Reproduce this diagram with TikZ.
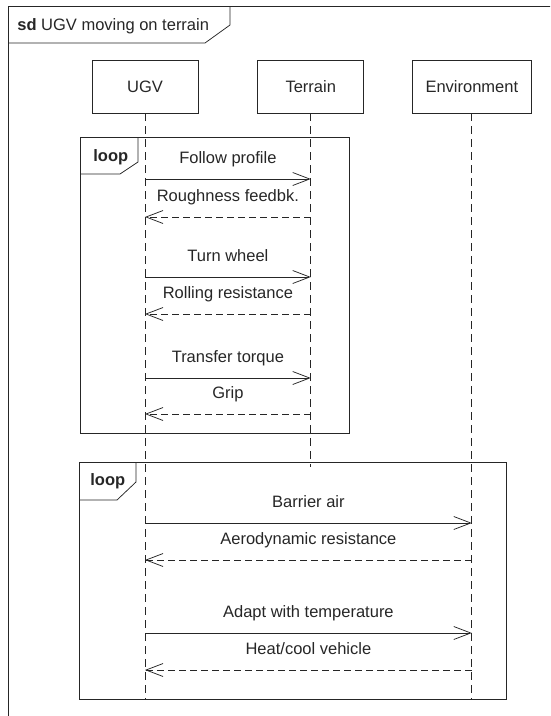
\documentclass[tikz,border=0pt]{standalone}
\usepackage{fontspec}
\setmainfont{Liberation Sans}
\usetikzlibrary{arrows.meta, positioning}
\tikzset{
  sequence/.style={
	x=1pt, y=-1pt, % one unit is one pixel, y grows downwards
	line width=0.75pt, % thin frame lines
	color=black!85,
	font=\fontsize{16.5}{19}\selectfont,
  },
  head/.style={draw, minimum width=106pt, minimum height=53pt, inner xsep=13pt}, % box on top of a lifeline
  lifeline/.style={dash pattern=on 8pt off 5pt}, % the dashed life line
  call/.style={-{Straight Barb[length=17pt, width=13pt]}}, % open arrow head
  reply/.style={call, dash pattern=on 7pt off 4pt}, % dashed return message
  msgtext/.style={anchor=base, inner sep=0pt, yshift=15.5pt}, % label above a message
  tabtext/.style={anchor=base west, inner sep=0pt},
}
\begin{document}
\begin{tikzpicture}[sequence]
\clip (0,0) rectangle (550,716);

% outer frame with its name tab
\draw (8,6) rectangle (600,760);
\draw (8,43) -- (205,43) -- (230,25) -- (230,6);
\node[tabtext] (title) at (17,30) {\textbf{sd} UGV moving on terrain};

% lifeline heads
\node[head] (ugv) at (145,86.5) {UGV};
\node[head, right=59pt of ugv] (terrain) {Terrain};
\node[head, right=48pt of terrain] (env) {Environment};

\coordinate (bottom) at (0,699);
\coordinate (tend) at (0,467);
\draw[lifeline] (ugv.south) -- (ugv |- bottom);
\draw[lifeline] (terrain.south) -- (terrain |- tend);
\draw[lifeline] (env.south) -- (env |- bottom);

% first loop: UGV and terrain
\draw (80,137) rectangle (349,433);
\draw (80,174) -- (120,174) -- (138,162) -- (138,137);
\node[tabtext] (loopa) at (93,161) {\textbf{loop}};

\coordinate (m1) at (0,179);
\coordinate (m2) at (0,217);
\coordinate (m3) at (0,277);
\coordinate (m4) at (0,314);
\coordinate (m5) at (0,378);
\coordinate (m6) at (0,414);

\draw[call] (ugv |- m1) -- (terrain |- m1) node[msgtext, midway] (t1) {Follow profile};
\draw[reply] (terrain |- m2) -- (ugv |- m2) node[msgtext, midway] (t2) {Roughness feedbk.};
\draw[call] (ugv |- m3) -- (terrain |- m3) node[msgtext, midway] (t3) {Turn wheel};
\draw[reply] (terrain |- m4) -- (ugv |- m4) node[msgtext, midway] (t4) {Rolling resistance};
\draw[call] (ugv |- m5) -- (terrain |- m5) node[msgtext, midway] (t5) {Transfer torque};
\draw[reply] (terrain |- m6) -- (ugv |- m6) node[msgtext, midway] (t6) {Grip};

% second loop: UGV and environment
\draw (79,462) rectangle (506,699);
\draw (79,500) -- (117,500) -- (136,482) -- (136,462);
\node[tabtext] (loopb) at (90,485) {\textbf{loop}};

\coordinate (m7) at (0,523);
\coordinate (m8) at (0,560);
\coordinate (m9) at (0,633);
\coordinate (m10) at (0,670);

\draw[call] (ugv |- m7) -- (env |- m7) node[msgtext, midway] (t7) {Barrier air};
\draw[reply] (env |- m8) -- (ugv |- m8) node[msgtext, midway] (t8) {Aerodynamic resistance};
\draw[call] (ugv |- m9) -- (env |- m9) node[msgtext, midway] (t9) {Adapt with temperature};
\draw[reply] (env |- m10) -- (ugv |- m10) node[msgtext, midway] (t10) {Heat/cool vehicle};
\end{tikzpicture}
\end{document}
